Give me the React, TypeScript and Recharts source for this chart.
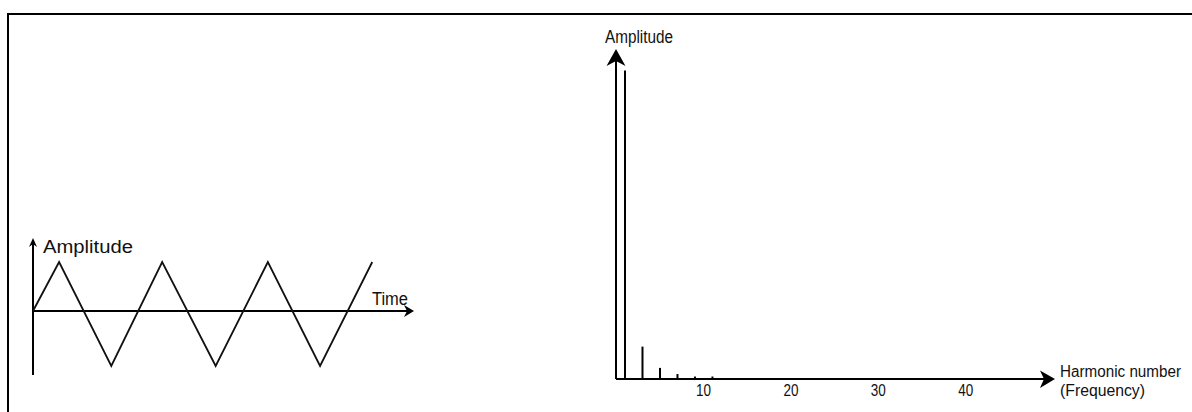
import React from "react";
import { ComposedChart, Line, Bar, XAxis, YAxis, ReferenceLine } from "recharts";

// triangle wave (time in quarter periods, amplitude in px-ish units)
const waveTime = [0, 1, 3, 4.95, 7, 9, 11, 13];
const waveAmplitude = [0, 49, -55, 49, -55, 49, -55, 49];

// spectrum: odd harmonics only
const harmonicNumbers = [1, 3, 5, 7, 9, 11];
const harmonicLevels = [1, 0.105, 0.036, 0.016, 0.008, 0.008];
const harmonicTicks = [10, 20, 30, 40];

const waveData = waveTime.map((t, i) => ({ t, amp: waveAmplitude[i] }));
const spectrumData = harmonicNumbers.map((n, i) => ({ n, level: harmonicLevels[i] }));

const FONT = '"Liberation Sans", Arial, sans-serif';
const INK = "#000";
const TEXT = "#111";

const label = (x: number, y: number, s: string, w: number, size = 18) => (
    <text
        x={x}
        y={y}
        fontFamily={FONT}
        fontSize={size}
        fill={TEXT}
        textLength={w}
        lengthAdjust="spacingAndGlyphs"
    >
        {s}
    </text>
);

const timeAxis = (p: any) => {
    const a = Math.min(p.x1, p.x2);
    const b = Math.max(p.x1, p.x2);
    const y = p.y1;
    return (
        <g>
            <line x1={a} y1={y} x2={b - 5} y2={y} stroke={INK} strokeWidth={2} />
            <polygon points={`${b},${y} ${b - 10},${y - 6} ${b - 7},${y} ${b - 10},${y + 6}`} fill={INK} />
            {label(b - 42, y - 6, "Time", 36)}
        </g>
    );
};

const waveAmpAxis = (p: any) => {
    const x = p.x1;
    const top = Math.min(p.y1, p.y2);
    const bottom = Math.max(p.y1, p.y2);
    return (
        <g>
            <line x1={x} y1={top + 5} x2={x} y2={bottom} stroke={INK} strokeWidth={2} />
            <polygon points={`${x},${top} ${x - 4},${top + 9} ${x},${top + 6} ${x + 4},${top + 9}`} fill={INK} />
            {label(x + 10, top + 15, "Amplitude", 90)}
        </g>
    );
};

const freqAxis = (p: any) => {
    const a = Math.min(p.x1, p.x2);
    const b = Math.max(p.x1, p.x2);
    const y = p.y1;
    return (
        <g>
            <line x1={a} y1={y} x2={b - 8} y2={y} stroke={INK} strokeWidth={2} />
            <polygon points={`${b},${y} ${b - 15},${y - 8.5} ${b - 11},${y} ${b - 15},${y + 9}`} fill={INK} />
            {label(b + 5, y - 2, "Harmonic number", 121, 16)}
            {label(b + 5, y + 17, "(Frequency)", 85, 17)}
        </g>
    );
};

const specAmpAxis = (p: any) => {
    const x = p.x1;
    const top = Math.min(p.y1, p.y2);
    const bottom = Math.max(p.y1, p.y2);
    return (
        <g>
            <line x1={x} y1={top + 10} x2={x} y2={bottom} stroke={INK} strokeWidth={2} />
            <polygon points={`${x},${top} ${x - 9.5},${top + 17} ${x},${top + 12} ${x + 9.5},${top + 17}`} fill={INK} />
            {label(x - 11, top - 6, "Amplitude", 68)}
        </g>
    );
};

const SpectrumTick = ({ x, y, payload }: any) => (
    <text
        x={x}
        y={y + 17}
        textAnchor="middle"
        fontFamily={FONT}
        fontSize={17}
        fill={TEXT}
        textLength={15}
        lengthAdjust="spacingAndGlyphs"
    >
        {payload.value}
    </text>
);

export default function App() {
    return (
        <div
            style={{
                position: "fixed",
                left: 0,
                top: 0,
                width: 1192,
                height: 412,
                overflow: "hidden",
                background: "#fff",
            }}
        >
            <div
                style={{
                    position: "absolute",
                    left: 7,
                    top: 13,
                    width: 1200,
                    height: 420,
                    borderTop: "2px solid #000",
                    borderLeft: "2px solid #000",
                }}
            />

            <div style={{ position: "absolute", left: 0, top: 0 }}>
                <ComposedChart
                    width={440}
                    height={400}
                    data={waveData}
                    margin={{ top: 238, left: 33, right: 26, bottom: 25 }}
                >
                    <XAxis dataKey="t" type="number" domain={[0, 14.6]} allowDataOverflow hide />
                    <YAxis type="number" domain={[-64, 73]} allowDataOverflow hide />
                    <ReferenceLine y={0} shape={timeAxis} />
                    <ReferenceLine x={0} shape={waveAmpAxis} />
                    <Line
                        type="linear"
                        dataKey="amp"
                        stroke="#111"
                        strokeWidth={1.8}
                        dot={false}
                        activeDot={false}
                        isAnimationActive={false}
                    />
                </ComposedChart>
            </div>

            <div style={{ position: "absolute", left: 560, top: 0 }}>
                <ComposedChart
                    width={632}
                    height={412}
                    data={spectrumData}
                    margin={{ top: 49, left: 56, right: 137, bottom: 3 }}
                >
                    <XAxis
                        dataKey="n"
                        type="number"
                        domain={[0, 50.2]}
                        allowDataOverflow
                        ticks={harmonicTicks}
                        axisLine={false}
                        tickLine={false}
                        tickSize={0}
                        tickMargin={0}
                        height={30}
                        tick={<SpectrumTick />}
                    />
                    <YAxis type="number" domain={[0, 1.07]} allowDataOverflow hide />
                    <Bar dataKey="level" fill={INK} barSize={2} isAnimationActive={false} />
                    <ReferenceLine y={0} shape={freqAxis} />
                    <ReferenceLine x={0} shape={specAmpAxis} />
                </ComposedChart>
            </div>
        </div>
    );
}
